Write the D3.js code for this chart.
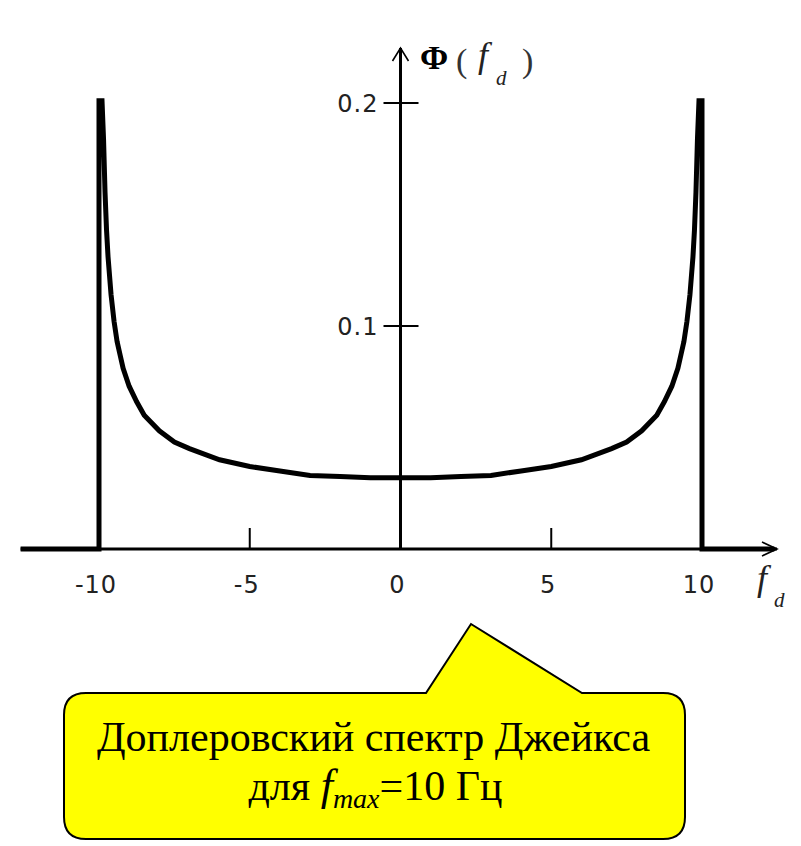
<!DOCTYPE html>
<html>
<head>
<meta charset="utf-8">
<script src="https://cdn.jsdelivr.net/npm/d3@7"></script>
<style>
  html, body { margin: 0; padding: 0; background: #fff; }
  svg { display: block; }
  .serif { font-family: "Liberation Serif", "Times New Roman", "DejaVu Serif", serif; }
  .tick { font-family: "DejaVu Sans", sans-serif; }
</style>
</head>
<body>
<svg id="chart" width="801" height="846"></svg>
<script>
// ---- Data ----
// Doppler frequency f_d (Hz), half-spectrum from f_max inwards
const freqHalf = [9.9, 9.85, 9.8, 9.75, 9.7, 9.6, 9.5, 9.4, 9.3, 9.2, 9.0, 8.75, 8.5, 8.0, 7.5, 7.0, 6.0, 5.0, 4.0, 3.0, 2.0, 1.0];
const phiHalf  = [0.201, 0.184, 0.160, 0.143, 0.131, 0.114, 0.102, 0.093, 0.087, 0.081, 0.073, 0.066, 0.060, 0.053, 0.048, 0.045, 0.040, 0.037, 0.035, 0.033, 0.0325, 0.032];
const phiCenter = 0.032;
const fMax = 10;
const peakValue = 0.201;
const xExtent = [-12.6, 12.4];
const xTicks = [-10, -5, 0, 5, 10];
const xTickLabels = ["-10", "-5", "0", "5", "10"];
const yTicks = [0.1, 0.2];
const yTickLabels = ["0.1", "0.2"];
const calloutLine1 = "Доплеровский спектр Джейкса";

// Build the full spectrum polyline
const spectrum = [];
spectrum.push([xExtent[0], 0]);
spectrum.push([-fMax, 0]);
spectrum.push([-fMax, peakValue]);
freqHalf.forEach((f, i) => spectrum.push([-f, phiHalf[i]]));
spectrum.push([0, phiCenter]);
for (let i = freqHalf.length - 1; i >= 0; i--) spectrum.push([freqHalf[i], phiHalf[i]]);
spectrum.push([fMax, peakValue]);
spectrum.push([fMax, 0]);
spectrum.push([xExtent[1], 0]);

const svg = d3.select("#chart");
svg.append("rect").attr("width", 801).attr("height", 846).attr("fill", "#fff");

const x = d3.scaleLinear().domain([-10, 10]).range([99, 702]);
const y = d3.scaleLinear().domain([0, 0.2]).range([549, 103]);

const axisColor = "#000";
const x0 = x(xExtent[0]);
const xEnd = 777;
const yTop = 48;

// x axis line + arrow
svg.append("line").attr("x1", x0).attr("x2", xEnd).attr("y1", y(0)).attr("y2", y(0))
  .attr("stroke", axisColor).attr("stroke-width", 3);
svg.append("path")
  .attr("d", `M${xEnd-15},${y(0)-7} L${xEnd},${y(0)} L${xEnd-15},${y(0)+7}`)
  .attr("fill", "none").attr("stroke", axisColor).attr("stroke-width", 1.6);

// y axis line + arrow
svg.append("line").attr("x1", x(0)).attr("x2", x(0)).attr("y1", y(0)).attr("y2", yTop)
  .attr("stroke", axisColor).attr("stroke-width", 3);
svg.append("path")
  .attr("d", `M${x(0)-8},${yTop+13} L${x(0)},${yTop} L${x(0)+8},${yTop+13}`)
  .attr("fill", "none").attr("stroke", axisColor).attr("stroke-width", 1.6);

// x ticks
svg.selectAll(".xtick").data(xTicks).join("line")
  .attr("x1", d => x(d)).attr("x2", d => x(d))
  .attr("y1", y(0)).attr("y2", y(0) - 21)
  .attr("stroke", axisColor).attr("stroke-width", 2);
svg.selectAll(".xlab").data(xTicks).join("text")
  .attr("class", "tick")
  .attr("x", d => x(d) - 3).attr("y", 593)
  .attr("text-anchor", "middle")
  .attr("font-size", 24).attr("fill", "#222")
  .attr("letter-spacing", 1)
  .text((d, i) => xTickLabels[i]);

// y ticks
svg.selectAll(".ytick").data(yTicks).join("line")
  .attr("x1", x(0) - 17).attr("x2", x(0) + 18)
  .attr("y1", d => y(d)).attr("y2", d => y(d))
  .attr("stroke", axisColor).attr("stroke-width", 1.8);
svg.selectAll(".ylab").data(yTicks).join("text")
  .attr("class", "tick")
  .attr("x", x(0) - 22).attr("y", d => y(d) + 9)
  .attr("text-anchor", "end")
  .attr("font-size", 24).attr("fill", "#222")
  .attr("letter-spacing", 1)
  .text((d, i) => yTickLabels[i]);

// spectrum
const line = d3.line().x(d => x(d[0])).y(d => y(d[1]));
svg.append("path").datum(spectrum)
  .attr("d", line)
  .attr("fill", "none").attr("stroke", "#000").attr("stroke-width", 5)
  .attr("stroke-linejoin", "miter");

// y-axis title Φ( f_d )
const yt = svg.append("text").attr("class", "serif").attr("fill", "#000");
yt.append("tspan").attr("x", 420).attr("y", 69).attr("font-size", 34).attr("font-weight", "bold").text("Φ");
yt.append("tspan").attr("x", 456).attr("y", 72).attr("font-size", 34).attr("fill", "#333").text("(");
yt.append("tspan").attr("x", 478).attr("y", 67).attr("font-size", 36).attr("font-style", "italic").attr("fill", "#222").text("f");
yt.append("tspan").attr("x", 496).attr("y", 85).attr("font-size", 21).attr("font-style", "italic").attr("fill", "#222").text("d");
yt.append("tspan").attr("x", 522).attr("y", 72).attr("font-size", 34).attr("fill", "#333").text(")");

// x-axis title f_d
const xt = svg.append("text").attr("class", "serif").attr("fill", "#222").attr("font-style", "italic");
xt.append("tspan").attr("x", 757).attr("y", 590).attr("font-size", 36).text("f");
xt.append("tspan").attr("x", 774).attr("y", 607).attr("font-size", 21).text("d");

// Callout
const bx0 = 64, bx1 = 685, by0 = 693, by1 = 839, r = 22;
const tipBaseL = 426, tipX = 471, tipY = 624, tipBaseR = 582;
const calloutPath = `M${bx0 + r},${by0} L${tipBaseL},${by0} L${tipX},${tipY} L${tipBaseR},${by0} L${bx1 - r},${by0}
  Q${bx1},${by0} ${bx1},${by0 + r} L${bx1},${by1 - r} Q${bx1},${by1} ${bx1 - r},${by1}
  L${bx0 + r},${by1} Q${bx0},${by1} ${bx0},${by1 - r} L${bx0},${by0 + r} Q${bx0},${by0} ${bx0 + r},${by0} Z`;
svg.append("path").attr("d", calloutPath)
  .attr("fill", "#ffff00").attr("stroke", "#000").attr("stroke-width", 2);

const cx = (bx0 + bx1) / 2 - 1;
svg.append("text").attr("class", "serif").attr("x", cx).attr("y", 751)
  .attr("text-anchor", "middle").attr("font-size", 42).attr("fill", "#000")
  .text(calloutLine1);
const l2 = svg.append("text").attr("class", "serif").attr("x", cx + 2).attr("y", 800)
  .attr("text-anchor", "middle").attr("font-size", 42).attr("fill", "#000");
l2.append("tspan").text("для ");
l2.append("tspan").attr("font-style", "italic").attr("font-size", 44).text("f");
l2.append("tspan").attr("font-style", "italic").attr("font-size", 28).attr("dy", 8).text("max");
l2.append("tspan").attr("dy", -8).text("=10 Гц");
</script>
</body>
</html>
